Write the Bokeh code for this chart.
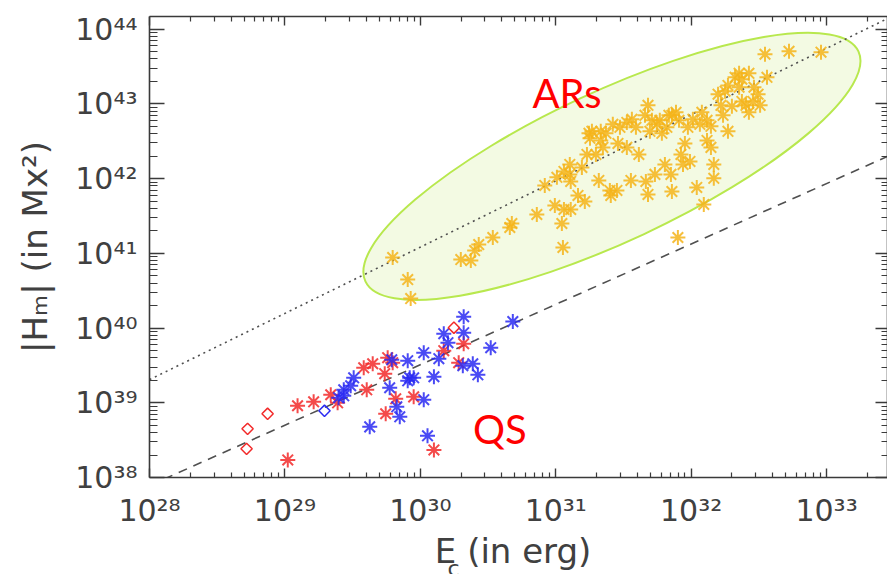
import numpy as np
from bokeh.plotting import figure
from bokeh.models import Range1d, LogAxis, FixedTicker, CustomJSTickFormatter, Label
from bokeh.embed import file_html
from bokeh.resources import INLINE

# ---------------- data ----------------
# Active regions (gold asterisks): E_c [erg], |H_m| [Mx^2]
ar_ec = [6.25e29, 8.07e29, 8.49e29, 1.99e30, 2.36e30, 2.52e30, 2.70e30, 3.43e30, 4.58e30, 4.74e30,
         7.25e30, 8.30e30, 9.85e30, 1.02e31, 1.11e31, 1.13e31, 1.15e31, 1.27e31, 1.27e31, 1.29e31,
         1.46e31, 1.56e31, 1.64e31, 1.70e31, 1.76e31, 1.85e31, 1.98e31, 2.08e31, 2.15e31, 2.15e31,
         2.35e31, 2.51e31, 2.55e31, 2.83e31, 2.88e31, 2.98e31, 3.35e31, 3.59e31, 3.65e31, 3.91e31,
         4.11e31, 4.63e31, 4.80e31, 4.96e31, 5.13e31, 5.40e31, 5.58e31, 5.87e31, 6.40e31, 6.62e31,
         6.85e31, 7.09e31, 7.21e31, 7.21e31, 7.73e31, 7.98e31, 8.13e31, 8.41e31, 8.99e31, 9.46e31,
         9.80e31, 1.03e32, 1.10e32, 1.16e32, 1.24e32, 1.31e32, 1.40e32, 1.47e32, 1.47e32, 1.58e32,
         1.66e32, 1.78e32, 1.87e32, 2.00e32, 2.11e32, 2.26e32, 2.37e32, 2.54e32, 2.67e32, 2.86e32,
         3.12e32, 3.23e32, 3.51e32, 3.63e32, 5.28e32, 9.10e32, 1.79e31, 2.23e31, 2.64e31, 4.56e31,
         6.08e31, 1.20e32, 1.31e32, 1.72e32, 2.26e32, 2.91e32, 2.67e32, 2.37e32, 1.15e31, 1.29e31,
         3.35e31, 8.71e31, 1.40e32, 4.80e31, 1.87e32]
ar_hm = [8.8e40, 4.46e40, 2.48e40, 8.26e40, 8.0e40, 1.09e41, 1.31e41, 1.63e41, 2.22e41, 2.51e41,
         3.31e41, 8.11e41, 4.37e41, 1.04e42, 2.51e41, 1.20e41, 3.86e41, 1.14e42, 1.55e42, 3.86e41,
         5.96e41, 1.41e42, 4.94e41, 2.11e42, 4.04e42, 4.30e42, 2.11e42, 9.46e41, 3.25e42, 4.30e42,
         4.04e42, 6.95e41, 5.96e41, 6.95e41, 2.96e42, 4.86e42, 5.66e42, 9.46e41, 6.22e42, 4.86e42,
         2.11e42, 9.17e41, 9.58e42, 4.30e42, 6.03e42, 1.14e42, 5.33e42, 6.03e42, 1.55e42, 4.86e42,
         7.03e42, 1.14e42, 6.73e41, 7.03e42, 7.71e42, 1.63e41, 6.03e42, 2.11e42, 2.96e42, 4.86e42,
         1.70e42, 6.22e42, 7.62e41, 5.33e42, 4.51e41, 6.03e42, 5.01e42, 1.01e42, 1.55e42, 1.35e43,
         9.58e42, 1.48e43, 4.30e42, 9.29e42, 2.27e43, 2.57e43, 2.14e43, 9.58e42, 2.57e43, 1.08e43,
         1.35e43, 9.58e42, 4.62e43, 2.27e43, 5.07e43, 4.92e43, 3.46e42, 2.62e42, 5.33e42, 7.03e42,
         4.04e42, 7.71e42, 3.25e42, 7.03e42, 1.67e43, 1.67e43, 7.71e42, 1.08e43, 1.25e42, 9.17e41,
         2.62e42, 1.55e42, 2.62e42, 6.14e41, 1.77e43]

# Quiet Sun, red asterisks
qs_red_ec = [1.05e29, 1.24e29, 1.63e29, 2.18e29, 2.45e29, 3.82e29, 4.45e29, 4.02e29, 5.46e29,
             5.74e29, 6.25e29, 6.58e29, 5.55e29, 8.93e29, 1.26e30, 1.49e30, 1.92e30, 2.09e30]
qs_red_hm = [1.72e38, 9.12e38, 1.03e39, 1.28e39, 1.00e39, 2.94e39, 3.33e39, 1.49e39, 2.45e39,
             4.01e39, 3.44e39, 1.13e39, 7.13e38, 1.20e39, 2.34e38, 4.98e39, 3.44e39, 6.18e39]

# Quiet Sun, blue asterisks
qs_blue_ec = [4.23e29, 2.49e29, 2.72e29, 3.06e29, 3.22e29, 5.94e29, 6.15e29, 6.70e29, 7.05e29,
              8.07e29, 8.35e29, 8.93e29, 8.07e29, 1.06e30, 1.06e30, 1.13e30, 1.26e30, 1.37e30,
              1.49e30, 1.60e30, 2.09e30, 2.09e30, 2.06e30, 2.44e30, 2.66e30, 3.31e30, 4.82e30,
              2.72e29]
qs_blue_hm = [4.76e38, 1.17e39, 1.49e39, 1.69e39, 2.16e39, 1.59e39, 3.77e39, 8.83e38, 6.49e38,
              3.66e39, 2.16e39, 2.16e39, 1.97e39, 1.10e39, 4.68e39, 3.61e38, 2.23e39, 3.89e39,
              8.41e39, 6.37e39, 1.42e40, 8.67e39, 3.13e39, 3.33e39, 2.37e39, 5.46e39, 1.22e40,
              1.24e39]

# Quiet Sun, open diamonds
dia_red_ec = [5.21e28, 5.30e28, 7.45e28, 1.77e30]
dia_red_hm = [2.42e38, 4.48e38, 7.13e38, 1.01e40]
dia_blue_ec = [1.96e29]
dia_blue_hm = [7.82e38]

# Fitted power laws (end points)
ar_fit_ec = [1.0e28, 2.8e33]
ar_fit_hm = [2.04e39, 1.38e44]
qs_fit_ec = [1.0e28, 2.85e33]
qs_fit_hm = [7.8e37, 2.0e42]

# Highlight ellipse centre and annotation positions
ell_ec, ell_hm = 2.60e31, 1.46e42
ars_label = (1.21e31, 1.39e43, "ARs")
qs_label = (3.86e30, 4.48e38, "QS")

x_major = [1e28, 1e29, 1e30, 1e31, 1e32, 1e33]
y_major = [1e38, 1e39, 1e40, 1e41, 1e42, 1e43, 1e44]

y_title = "|H\u2098| (in Mx\u00b2)"
x_title = "E  (in erg)"
x_title_sub = ("c", 1.59e30, 6.14e36)   # subscript of E, anchored in data space below the axis

# ---------------- styling ----------------
AX = "#3a3a3a"
TXT = "#404040"
GOLD = "#F4B41A"
RED = "#F22A2A"
BLUE = "#2A2AF2"
FONT = "DejaVu Sans"

p = figure(width=887, height=574, x_axis_type="log", y_axis_type="log",
           x_range=Range1d(1e28, 10 ** 33.45), y_range=Range1d(1e38, 10 ** 44.17),
           x_axis_location=None, y_axis_location=None,
           output_backend="svg", toolbar_location=None,
           min_border_left=149, min_border_right=0, min_border_top=16, min_border_bottom=97)
p.outline_line_color = None
p.background_fill_color = "white"
p.border_fill_color = "white"
p.xgrid.visible = False
p.ygrid.visible = False

JS = """
const s = ["\u2070","\u00b9","\u00b2","\u00b3","\u2074","\u2075","\u2076","\u2077","\u2078","\u2079"];
const e = Math.round(Math.log10(tick));
let out = "";
for (const ch of String(e)) { out += (ch === "-") ? "\u207b" : s[parseInt(ch)]; }
return "10" + out;
"""


def minors(lo, hi):
    return [m * 10.0 ** k for k in range(lo, hi) for m in range(2, 10)]


def make_axis(ticks, minor, tin, minin, labels, standoff=12):
    ax = LogAxis(ticker=FixedTicker(ticks=ticks, minor_ticks=minor))
    ax.major_tick_in = tin
    ax.major_tick_out = 0
    ax.minor_tick_in = minin
    ax.minor_tick_out = 0
    ax.axis_line_color = AX
    ax.axis_line_width = 1.6
    ax.major_tick_line_color = AX
    ax.major_tick_line_width = 1.4
    ax.minor_tick_line_color = AX
    ax.minor_tick_line_width = 1.2
    if labels:
        ax.formatter = CustomJSTickFormatter(code=JS)
        ax.major_label_text_font = FONT
        ax.major_label_text_font_size = "30px"
        ax.major_label_text_color = TXT
        ax.major_label_standoff = standoff
    else:
        ax.formatter = CustomJSTickFormatter(code="return '';")
        ax.major_label_text_font_size = "0px"
        ax.major_label_standoff = 0
    return ax


def style_title(ax, text, standoff):
    ax.axis_label = text
    ax.axis_label_text_font = FONT
    ax.axis_label_text_font_size = "34px"
    ax.axis_label_text_font_style = "normal"
    ax.axis_label_text_color = TXT
    ax.axis_label_standoff = standoff


xb = make_axis(x_major, minors(27, 34), 9, 5, True, standoff=15)
style_title(xb, x_title, 0)
p.add_layout(xb, "below")
p.add_layout(make_axis(x_major, minors(27, 34), 9, 5, False), "above")
yl = make_axis(y_major, minors(37, 45), 15, 8, True, standoff=12)
style_title(yl, y_title, 17)
p.add_layout(yl, "left")
p.add_layout(make_axis(y_major, minors(37, 45), 12, 6, False), "right")

# highlight ellipse (screen-sized, rotated)
p.ellipse(x=[ell_ec], y=[ell_hm], width=544, height=150, angle=np.deg2rad(25),
          width_units="screen", height_units="screen",
          fill_color="#F3FAE3", line_color="#B8E84E", line_width=2)

# fit lines
p.line(ar_fit_ec, ar_fit_hm, line_color="#505050", line_width=1.6, line_dash="2 4")
p.line(qs_fit_ec, qs_fit_hm, line_color="#505050", line_width=1.6, line_dash="9 7")

# scatter
p.scatter(ar_ec, ar_hm, marker="asterisk", size=15, line_color=GOLD, line_width=2, line_alpha=0.85)
p.scatter(qs_red_ec, qs_red_hm, marker="asterisk", size=15, line_color=RED, line_width=2, line_alpha=0.85)
p.scatter(qs_blue_ec, qs_blue_hm, marker="asterisk", size=15, line_color=BLUE, line_width=2, line_alpha=0.85)
p.scatter(dia_red_ec, dia_red_hm, marker="square", angle=np.pi / 4, size=8, fill_color=None,
          line_color=RED, line_width=1.5)
p.scatter(dia_blue_ec, dia_blue_hm, marker="square", angle=np.pi / 4, size=8, fill_color=None,
          line_color=BLUE, line_width=1.5)

# annotations
for (lx, ly, lt) in (ars_label, qs_label):
    p.add_layout(Label(x=lx, y=ly, text=lt, text_align="center", text_baseline="alphabetic",
                       text_font="Lato", text_font_size="40px", text_color="#FF0000"))

# subscript "c" of the x title: lives in a side panel so that it is not clipped to the frame
st, sx, sy = x_title_sub
p.add_layout(Label(x=sx, y=sy, text=st, text_align="left", text_baseline="alphabetic",
                   text_font=FONT, text_font_size="22px", text_color=TXT), "left")

with open("out.html", "w", encoding="utf-8") as f:
    f.write(file_html(p, INLINE))
